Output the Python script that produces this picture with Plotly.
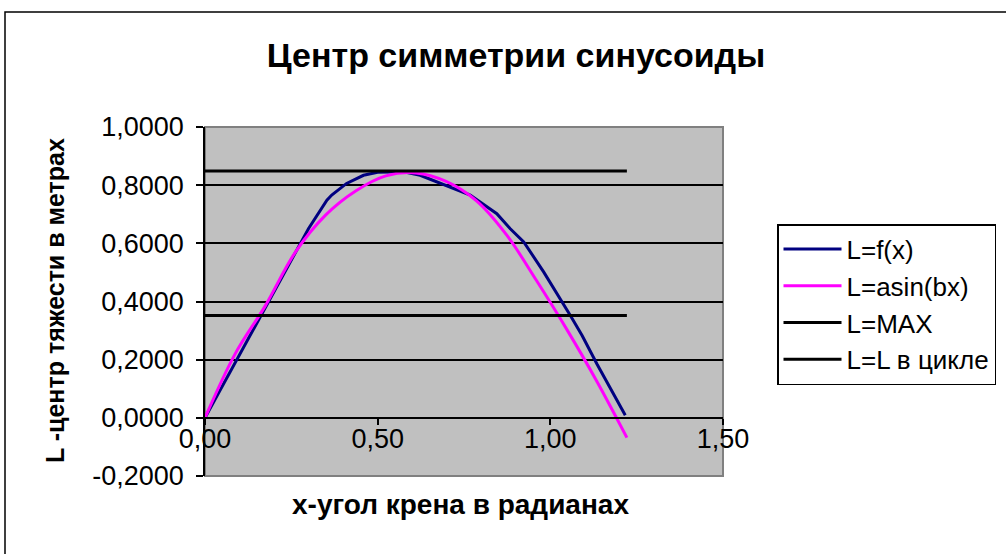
import plotly.graph_objects as go

# L = f(x): computed centre of gravity vs heel angle
fx_x = [0.0, 0.092, 0.184, 0.275, 0.300, 0.353, 0.367, 0.410, 0.459, 0.500,
        0.575, 0.623, 0.690, 0.768, 0.845, 0.884, 0.923, 0.981, 1.058, 1.092,
        1.135, 1.217]
fx_y = [0.0, 0.200, 0.400, 0.600, 0.651, 0.748, 0.766, 0.806, 0.834, 0.844,
        0.846, 0.834, 0.803, 0.766, 0.702, 0.650, 0.605, 0.501, 0.352, 0.283,
        0.185, 0.009]

# L = a*sin(bx): fitted sinusoid, 5-degree steps
sin_x = [0.0, 0.0873, 0.1745, 0.2618, 0.3491, 0.4363, 0.5236, 0.6109, 0.6981,
         0.7854, 0.8727, 0.9599, 1.0472, 1.1345, 1.2217]
sin_y = [0.0, 0.220, 0.385, 0.570, 0.697, 0.780, 0.832, 0.842, 0.813,
         0.747, 0.630, 0.472, 0.305, 0.126, -0.068]

# horizontal reference levels
x_span = [0.0, 1.2217]
l_max = 0.849
l_cycle = 0.352

series_names = ["L=f(x)", "L=asin(bx)", "L=MAX", "L=L в цикле"]
series_colors = ["#000080", "#FF00FF", "#000000", "#000000"]

FONT = "Liberation Sans, Arial, sans-serif"

fig = go.Figure()
fig.add_trace(go.Scatter(x=fx_x, y=fx_y, mode="lines", name=series_names[0],
                         line=dict(color=series_colors[0], width=3)))
fig.add_trace(go.Scatter(x=sin_x, y=sin_y, mode="lines", name=series_names[1],
                         line=dict(color=series_colors[1], width=3, shape="spline")))
fig.add_trace(go.Scatter(x=x_span, y=[l_max, l_max], mode="lines", name=series_names[2],
                         line=dict(color=series_colors[2], width=3)))
fig.add_trace(go.Scatter(x=x_span, y=[l_cycle, l_cycle], mode="lines", name=series_names[3],
                         line=dict(color=series_colors[3], width=3)))

# plot-area layout in pixels
W, H = 1006, 554
L, R, T, B = 205, 283, 127, 78
pw, ph = W - L - R, H - T - B

def px_x(px):
    return (px - L) / pw

def px_y(py):
    return (H - B - py) / ph

y_min, y_max = -0.2, 1.0
zero_pos = (0 - y_min) / (y_max - y_min)

fig.update_layout(
    width=W, height=H,
    margin=dict(l=L, r=R, t=T, b=B, pad=0, autoexpand=False),
    paper_bgcolor="white",
    plot_bgcolor="#C0C0C0",
    font=dict(family=FONT, size=27, color="black"),
    title=dict(text="<b>Центр симметрии синусоиды</b>", x=px_x(516), xref="paper",
               xanchor="center", y=1 - 55 / H, yanchor="middle",
               font=dict(size=34, family=FONT)),
    showlegend=True,
    legend=dict(x=px_x(777), y=px_y(224), xanchor="left", yanchor="top",
                bgcolor="white", bordercolor="black", borderwidth=1.5,
                font=dict(size=26, family=FONT), tracegroupgap=0,
                itemwidth=58),
    xaxis=dict(range=[0, 1.5], tickvals=[0, 0.5, 1.0, 1.5],
               ticktext=["0,00", "0,50", "1,00", "1,50"],
               anchor="free", position=zero_pos,
               showline=True, linecolor="black", linewidth=1.5,
               ticks="outside", ticklen=6, tickcolor="black", tickwidth=1.5,
               ticklabelstandoff=-9,
               showgrid=False, zeroline=False,
               tickfont=dict(size=27, family=FONT),
               title=None),
    yaxis=dict(range=[y_min, y_max], tickvals=[-0.2, 0, 0.2, 0.4, 0.6, 0.8, 1.0],
               ticktext=["-0,2000", "0,0000", "0,2000", "0,4000", "0,6000", "0,8000", "1,0000"],
               showline=True, linecolor="black", linewidth=1.5,
               ticks="outside", ticklen=7, tickcolor="black", tickwidth=1.5,
               ticklabelstandoff=7,
               showgrid=True, gridcolor="black", gridwidth=1.5,
               zeroline=False, tickfont=dict(size=27, family=FONT),
               title=None),
)

# axis titles
fig.add_annotation(text="<b>x-угол крена в радианах</b>", x=px_x(460), y=px_y(504),
                   xref="paper", yref="paper", showarrow=False,
                   font=dict(size=28, family=FONT), xanchor="center", yanchor="middle")
fig.add_annotation(text="<b>L -центр тяжести в метрах</b>", x=px_x(55), y=px_y(301),
                   xref="paper", yref="paper", showarrow=False, textangle=-90,
                   font=dict(size=25, family=FONT), xanchor="center", yanchor="middle")

# plot-area frame and outer chart border
fig.add_shape(type="rect", xref="paper", yref="paper", x0=0, x1=1, y0=0, y1=1,
              line=dict(color="#808080", width=2), layer="below")
fig.add_shape(type="rect", xref="paper", yref="paper",
              x0=px_x(5), x1=px_x(1012), y0=px_y(560), y1=px_y(12),
              line=dict(color="black", width=1.5), layer="below")

fig.write_html("out.html")
